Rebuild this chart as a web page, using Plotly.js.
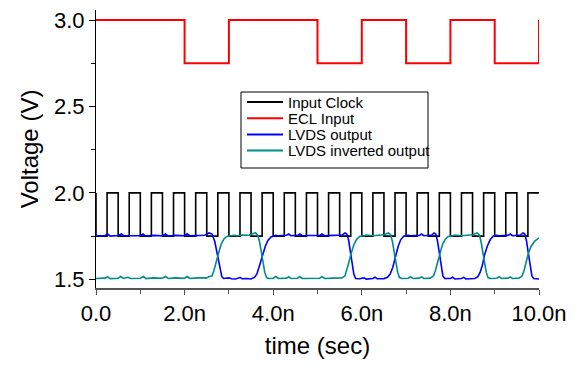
<!DOCTYPE html>
<html>
<head>
<meta charset="utf-8">
<script src="https://cdn.plot.ly/plotly-3.0.1.min.js"></script>
<style>html,body{margin:0;padding:0;background:#fff;}#chart{width:576px;height:366px;}</style>
</head>
<body>
<div id="chart"></div>
<script>
// time in ns
var seriesNames = ["Input Clock", "ECL Input", "LVDS output", "LVDS inverted output"];
var seriesColors = ["#000000", "#ff0000", "#0000ff", "#008b8b"];

var clockT = [0, 0, 0.25, 0.5, 0.75, 1.0, 1.25, 1.5, 1.75, 2.0, 2.25, 2.5, 2.75, 3.0, 3.25, 3.5, 3.75, 4.0, 4.25, 4.5, 4.75, 5.0, 5.25, 5.5, 5.75, 6.0, 6.25, 6.5, 6.75, 7.0, 7.25, 7.5, 7.75, 8.0, 8.25, 8.5, 8.75, 9.0, 9.25, 9.5, 9.75, 10.0];
var clockV = [2.0, 1.75, 2.0, 1.75, 2.0, 1.75, 2.0, 1.75, 2.0, 1.75, 2.0, 1.75, 2.0, 1.75, 2.0, 1.75, 2.0, 1.75, 2.0, 1.75, 2.0, 1.75, 2.0, 1.75, 2.0, 1.75, 2.0, 1.75, 2.0, 1.75, 2.0, 1.75, 2.0, 1.75, 2.0, 1.75, 2.0, 1.75, 2.0, 1.75, 2.0, 2.0];

var eclT = [0, 2.0, 3.0, 5.0, 6.0, 7.0, 8.0, 9.0, 10.0];
var eclV = [3.0, 2.75, 3.0, 2.75, 3.0, 2.75, 3.0, 2.75, 3.0];

var lvdsT = [0.00,0.20,0.26,0.32,0.50,0.57,0.63,0.75,0.80,1.00,1.06,1.12,1.30,1.50,1.57,1.63,1.80,2.00,2.06,2.12,2.30,2.45,2.55,2.62,2.68,2.72,2.76,2.80,2.84,2.88,3.00,3.06,3.15,3.25,3.30,3.40,3.50,3.58,3.63,3.68,3.75,3.82,3.88,3.95,4.05,4.10,4.30,4.35,4.40,4.55,4.60,4.66,4.80,5.05,5.10,5.16,5.35,5.55,5.62,5.66,5.70,5.74,5.78,5.82,5.86,5.95,6.05,6.10,6.25,6.30,6.35,6.50,6.58,6.64,6.70,6.76,6.82,6.88,6.95,7.05,7.10,7.30,7.35,7.40,7.58,7.63,7.67,7.71,7.75,7.79,7.83,7.87,8.00,8.05,8.10,8.25,8.30,8.35,8.55,8.62,8.67,8.72,8.77,8.83,8.90,8.97,9.05,9.10,9.30,9.35,9.40,9.58,9.64,9.68,9.72,9.76,9.80,9.84,9.88,9.95,10.0];
var lvdsV = [1.752,1.752,1.762,1.750,1.753,1.763,1.751,1.754,1.752,1.752,1.762,1.750,1.754,1.752,1.762,1.750,1.754,1.752,1.763,1.751,1.754,1.755,1.768,1.762,1.72,1.67,1.62,1.56,1.515,1.505,1.508,1.503,1.502,1.510,1.503,1.505,1.502,1.512,1.53,1.57,1.63,1.69,1.725,1.745,1.755,1.752,1.755,1.762,1.752,1.754,1.762,1.752,1.753,1.754,1.762,1.752,1.754,1.756,1.768,1.762,1.73,1.67,1.60,1.53,1.505,1.503,1.508,1.501,1.505,1.512,1.503,1.504,1.512,1.53,1.57,1.63,1.69,1.73,1.75,1.755,1.752,1.754,1.762,1.752,1.756,1.768,1.762,1.72,1.65,1.58,1.52,1.505,1.505,1.512,1.502,1.505,1.511,1.502,1.505,1.515,1.54,1.58,1.64,1.69,1.73,1.75,1.755,1.752,1.754,1.762,1.752,1.756,1.768,1.762,1.72,1.65,1.58,1.52,1.505,1.503,1.502];

var lvdsInvT = [0.00,0.20,0.26,0.32,0.50,0.56,0.62,0.72,0.78,1.00,1.07,1.13,1.30,1.50,1.57,1.63,1.80,2.00,2.06,2.12,2.30,2.50,2.56,2.62,2.66,2.71,2.76,2.82,2.88,2.95,3.05,3.10,3.20,3.30,3.45,3.55,3.60,3.65,3.69,3.73,3.77,3.81,3.85,3.90,4.00,4.06,4.12,4.30,4.35,4.40,4.55,4.60,4.66,4.85,5.05,5.10,5.16,5.35,5.55,5.62,5.66,5.71,5.76,5.82,5.88,5.95,6.05,6.10,6.25,6.35,6.50,6.60,6.65,6.69,6.73,6.77,6.81,6.85,6.90,7.05,7.10,7.16,7.30,7.35,7.40,7.55,7.62,7.66,7.71,7.76,7.82,7.88,7.95,8.05,8.10,8.25,8.35,8.50,8.60,8.65,8.69,8.73,8.77,8.81,8.85,8.90,9.05,9.10,9.16,9.30,9.35,9.40,9.55,9.62,9.66,9.71,9.76,9.82,9.90,10.0];
var lvdsInvV = [1.505,1.507,1.515,1.504,1.506,1.516,1.505,1.512,1.505,1.506,1.516,1.504,1.508,1.506,1.516,1.505,1.508,1.506,1.516,1.505,1.508,1.508,1.516,1.52,1.55,1.60,1.65,1.70,1.73,1.748,1.752,1.755,1.752,1.756,1.755,1.765,1.770,1.755,1.72,1.66,1.60,1.54,1.51,1.505,1.506,1.516,1.505,1.507,1.515,1.505,1.506,1.515,1.505,1.507,1.506,1.516,1.505,1.507,1.508,1.52,1.55,1.60,1.65,1.70,1.73,1.748,1.752,1.756,1.752,1.755,1.758,1.768,1.758,1.72,1.66,1.60,1.54,1.51,1.505,1.506,1.515,1.505,1.507,1.514,1.505,1.507,1.52,1.55,1.60,1.65,1.70,1.73,1.748,1.752,1.756,1.752,1.755,1.758,1.768,1.758,1.72,1.66,1.60,1.54,1.51,1.505,1.506,1.515,1.505,1.507,1.514,1.505,1.507,1.52,1.55,1.60,1.65,1.69,1.72,1.74];

var xTickVals = [0, 2, 4, 6, 8, 10];
var xTickText = ["0.0", "2.0n", "4.0n", "6.0n", "8.0n", "10.0n"];
var xMinorVals = [1, 3, 5, 7, 9];
var yTickVals = [1.5, 2.0, 2.5, 3.0];
var yTickText = ["1.5", "2.0", "2.5", "3.0"];
var yMinorVals = [1.75, 2.25, 2.75];

var font = "Liberation Sans, Arial, sans-serif";

var traces = [
  {x: clockT, y: clockV, name: seriesNames[0], mode: "lines", line: {color: seriesColors[0], width: 1.6, shape: "hv"}},
  {x: eclT, y: eclV, name: seriesNames[1], mode: "lines", line: {color: seriesColors[1], width: 2, shape: "hv"}},
  {x: lvdsT, y: lvdsV, name: seriesNames[2], mode: "lines", line: {color: seriesColors[2], width: 1.6}},
  {x: lvdsInvT, y: lvdsInvV, name: seriesNames[3], mode: "lines", line: {color: seriesColors[3], width: 1.6}}
];

// Legend box drawn in paper coordinates (pixel-matched to the reference)
var plotL = 96, plotW = 443, plotB = 288, plotH = 278;
function px(x) { return (x - plotL) / plotW; }
function py(y) { return (plotB - y) / plotH; }
var legendRows = [102, 118.2, 134.4, 150.6];
var shapes = [{
  type: "rect", xref: "paper", yref: "paper", layer: "above",
  x0: px(241), x1: px(428), y0: py(168), y1: py(92),
  line: {color: "#000000", width: 1}, fillcolor: "#ffffff"
}];
var annotations = [];
for (var i = 0; i < seriesNames.length; i++) {
  shapes.push({
    type: "line", xref: "paper", yref: "paper", layer: "above",
    x0: px(247), x1: px(283), y0: py(legendRows[i]), y1: py(legendRows[i]),
    line: {color: seriesColors[i], width: 2}
  });
  annotations.push({
    xref: "paper", yref: "paper", x: px(286), y: py(legendRows[i]),
    xanchor: "left", yanchor: "middle", showarrow: false,
    text: seriesNames[i], font: {family: font, size: 15, color: "#000000"}
  });
}

var layout = {
  width: 576, height: 366,
  margin: {l: 96, r: 37, t: 10, b: 78, pad: 0},
  paper_bgcolor: "#ffffff", plot_bgcolor: "#ffffff",
  font: {family: font, color: "#000000"},
  showlegend: false,
  shapes: shapes,
  annotations: annotations,
  xaxis: {
    range: [0, 10], showgrid: false, zeroline: false,
    showline: true, linecolor: "#555555", linewidth: 2,
    ticks: "outside", ticklen: 5, tickwidth: 1, tickcolor: "#555555",
    tickvals: xTickVals, ticktext: xTickText,
    tickfont: {family: font, size: 22, color: "#000000"},
    minor: {tickvals: xMinorVals, ticks: "outside", ticklen: 4, tickcolor: "#555555", tickwidth: 1},
    title: {text: "time (sec)", font: {family: font, size: 24, color: "#000000"}, standoff: 12}
  },
  yaxis: {
    range: [1.4497, 3.058], showgrid: false, zeroline: false,
    showline: true, linecolor: "#000000", linewidth: 1,
    ticks: "outside", ticklen: 6, tickwidth: 1, tickcolor: "#000000",
    tickvals: yTickVals, ticktext: yTickText,
    tickfont: {family: font, size: 22, color: "#000000"},
    minor: {tickvals: yMinorVals, ticks: "outside", ticklen: 4, tickcolor: "#000000", tickwidth: 1},
    title: {text: "Voltage (V)", font: {family: font, size: 24, color: "#000000"}, standoff: 8}
  }
};

Plotly.newPlot("chart", traces, layout, {staticPlot: true, displayModeBar: false});
</script>
</body>
</html>
